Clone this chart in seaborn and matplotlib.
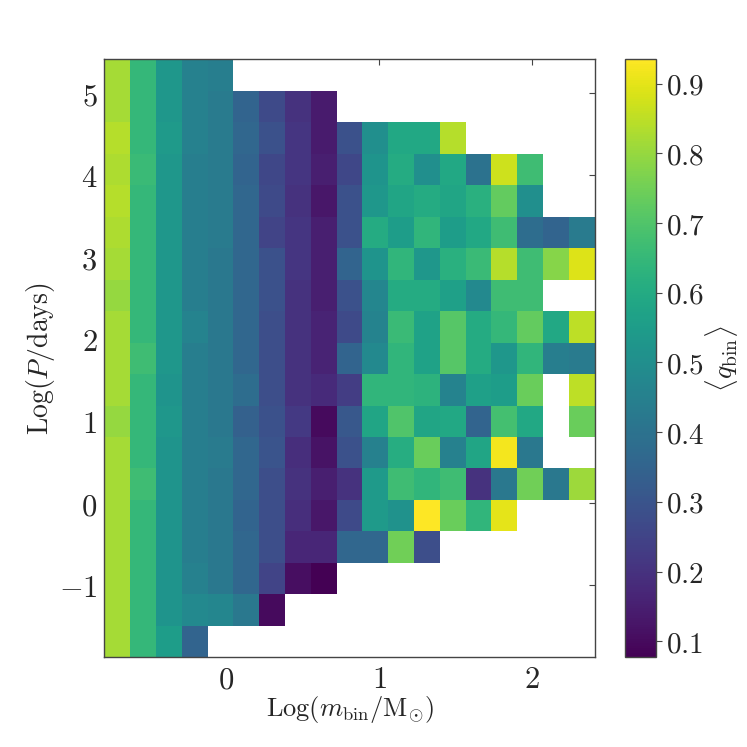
import numpy as np
import pandas as pd
import matplotlib
matplotlib.use('Agg')
import matplotlib.pyplot as plt
import seaborn as sns

nan = np.nan

# bin edges of the 19x19 grid
x_lo, x_hi = -0.792, 2.407
y_lo, y_hi = -1.876, 5.415
n_x, n_y = 19, 19

# mean q_bin per cell, rows from top (long periods) to bottom
q_rows = [
    [0.82, 0.65, 0.53, 0.45, 0.44, nan, nan, nan, nan, nan, nan, nan, nan, nan, nan, nan, nan, nan, nan],
    [0.82, 0.65, 0.53, 0.45, 0.43, 0.35, 0.27, 0.20, 0.14, nan, nan, nan, nan, nan, nan, nan, nan, nan, nan],
    [0.84, 0.65, 0.54, 0.45, 0.43, 0.36, 0.29, 0.21, 0.14, 0.29, 0.50, 0.59, 0.59, 0.84, nan, nan, nan, nan, nan],
    [0.83, 0.66, 0.53, 0.44, 0.43, 0.35, 0.26, 0.21, 0.15, 0.26, 0.52, 0.60, 0.50, 0.59, 0.40, 0.87, 0.67, nan, nan],
    [0.84, 0.65, 0.53, 0.44, 0.43, 0.36, 0.27, 0.20, 0.13, 0.29, 0.53, 0.58, 0.60, 0.58, 0.62, 0.73, 0.50, nan, nan],
    [0.83, 0.65, 0.53, 0.44, 0.43, 0.36, 0.25, 0.21, 0.15, 0.29, 0.60, 0.55, 0.64, 0.55, 0.59, 0.67, 0.38, 0.35, 0.43],
    [0.82, 0.65, 0.53, 0.44, 0.42, 0.36, 0.29, 0.21, 0.15, 0.35, 0.52, 0.64, 0.53, 0.62, 0.66, 0.84, 0.67, 0.78, 0.89],
    [0.80, 0.65, 0.53, 0.44, 0.42, 0.36, 0.29, 0.20, 0.15, 0.29, 0.47, 0.60, 0.60, 0.56, 0.48, 0.67, 0.67, nan, nan],
    [0.82, 0.65, 0.53, 0.46, 0.42, 0.36, 0.28, 0.20, 0.16, 0.27, 0.46, 0.66, 0.57, 0.71, 0.60, 0.65, 0.73, 0.59, 0.85],
    [0.82, 0.67, 0.53, 0.44, 0.42, 0.36, 0.28, 0.20, 0.16, 0.35, 0.48, 0.64, 0.57, 0.71, 0.60, 0.53, 0.64, 0.44, 0.43],
    [0.82, 0.65, 0.52, 0.44, 0.42, 0.38, 0.28, 0.20, 0.18, 0.23, 0.64, 0.64, 0.63, 0.46, 0.56, 0.55, 0.74, nan, 0.85],
    [0.80, 0.65, 0.53, 0.44, 0.42, 0.34, 0.29, 0.22, 0.10, 0.31, 0.58, 0.70, 0.58, 0.59, 0.35, 0.68, 0.59, nan, 0.74],
    [0.82, 0.65, 0.52, 0.44, 0.43, 0.36, 0.30, 0.19, 0.12, 0.29, 0.45, 0.61, 0.74, 0.45, 0.58, 0.92, 0.42, nan, nan],
    [0.82, 0.67, 0.52, 0.44, 0.42, 0.36, 0.28, 0.20, 0.15, 0.20, 0.54, 0.67, 0.64, 0.67, 0.20, 0.42, 0.75, 0.42, 0.81],
    [0.82, 0.65, 0.52, 0.44, 0.42, 0.35, 0.28, 0.19, 0.13, 0.27, 0.54, 0.51, 0.935, 0.74, 0.64, 0.90, nan, nan, nan],
    [0.82, 0.65, 0.52, 0.44, 0.42, 0.36, 0.28, 0.17, 0.17, 0.36, 0.36, 0.75, 0.28, nan, nan, nan, nan, nan, nan],
    [0.82, 0.65, 0.52, 0.45, 0.42, 0.36, 0.25, 0.11, 0.077, nan, nan, nan, nan, nan, nan, nan, nan, nan, nan],
    [0.82, 0.65, 0.52, 0.48, 0.47, 0.42, 0.10, nan, nan, nan, nan, nan, nan, nan, nan, nan, nan, nan, nan],
    [0.82, 0.65, 0.55, 0.35, nan, nan, nan, nan, nan, nan, nan, nan, nan, nan, nan, nan, nan, nan, nan],
]

x_ticks = [0, 1, 2]
y_ticks = [-1, 0, 1, 2, 3, 4, 5]
cbar_ticks = [0.1, 0.2, 0.3, 0.4, 0.5, 0.6, 0.7, 0.8, 0.9]

sns.set_style('white')
plt.rcParams['font.family'] = ['DejaVu Serif']
plt.rcParams['mathtext.fontset'] = 'cm'

grid = pd.DataFrame(q_rows)

fig = plt.figure(figsize=(7.47, 7.47), dpi=100)
ax = fig.add_axes([0.1396, 0.1201, 0.6565, 0.8005])
cax = fig.add_axes([0.8367, 0.1201, 0.0415, 0.8005])

sns.heatmap(grid, ax=ax, cbar_ax=cax, cmap='viridis', vmin=0.077, vmax=0.935,
            xticklabels=False, yticklabels=False)

# map data values onto cell index positions
dx = (x_hi - x_lo) / n_x
dy = (y_hi - y_lo) / n_y
ax.set_xticks([(v - x_lo) / dx for v in x_ticks])
ax.set_xticklabels([r'$%d$' % v for v in x_ticks], fontsize=22)
ax.set_yticks([(y_hi - v) / dy for v in y_ticks])
ax.set_yticklabels([r'$%d$' % v for v in y_ticks], fontsize=22, rotation=0)

ax.set_xlabel(r'$\mathrm{Log}(m_{\rm bin}/\mathrm{M}_{\odot})$', fontsize=19, labelpad=-1)
ax.set_ylabel(r'$\mathrm{Log}(P/\mathrm{days})$', fontsize=20, labelpad=1)

for sp in ax.spines.values():
    sp.set_visible(True)
    sp.set_color('#444444')
    sp.set_linewidth(1.0)
ax.tick_params(direction='in', top=True, right=True, length=4, width=0.8,
               color='#444444', pad=5)

cb = ax.collections[0].colorbar
cb.set_ticks(cbar_ticks)
cb.set_ticklabels([r'$%.1f$' % v for v in cbar_ticks])
cb.ax.tick_params(labelsize=21, length=4, width=0.8, color='#444444', pad=3)
cb.outline.set_visible(True)
cb.outline.set_edgecolor('#444444')
cb.outline.set_linewidth(1.0)
cb.set_label(r'$\langle q_{\rm bin} \rangle$', fontsize=20, labelpad=-1)

fig.savefig('out.png', dpi=100)
